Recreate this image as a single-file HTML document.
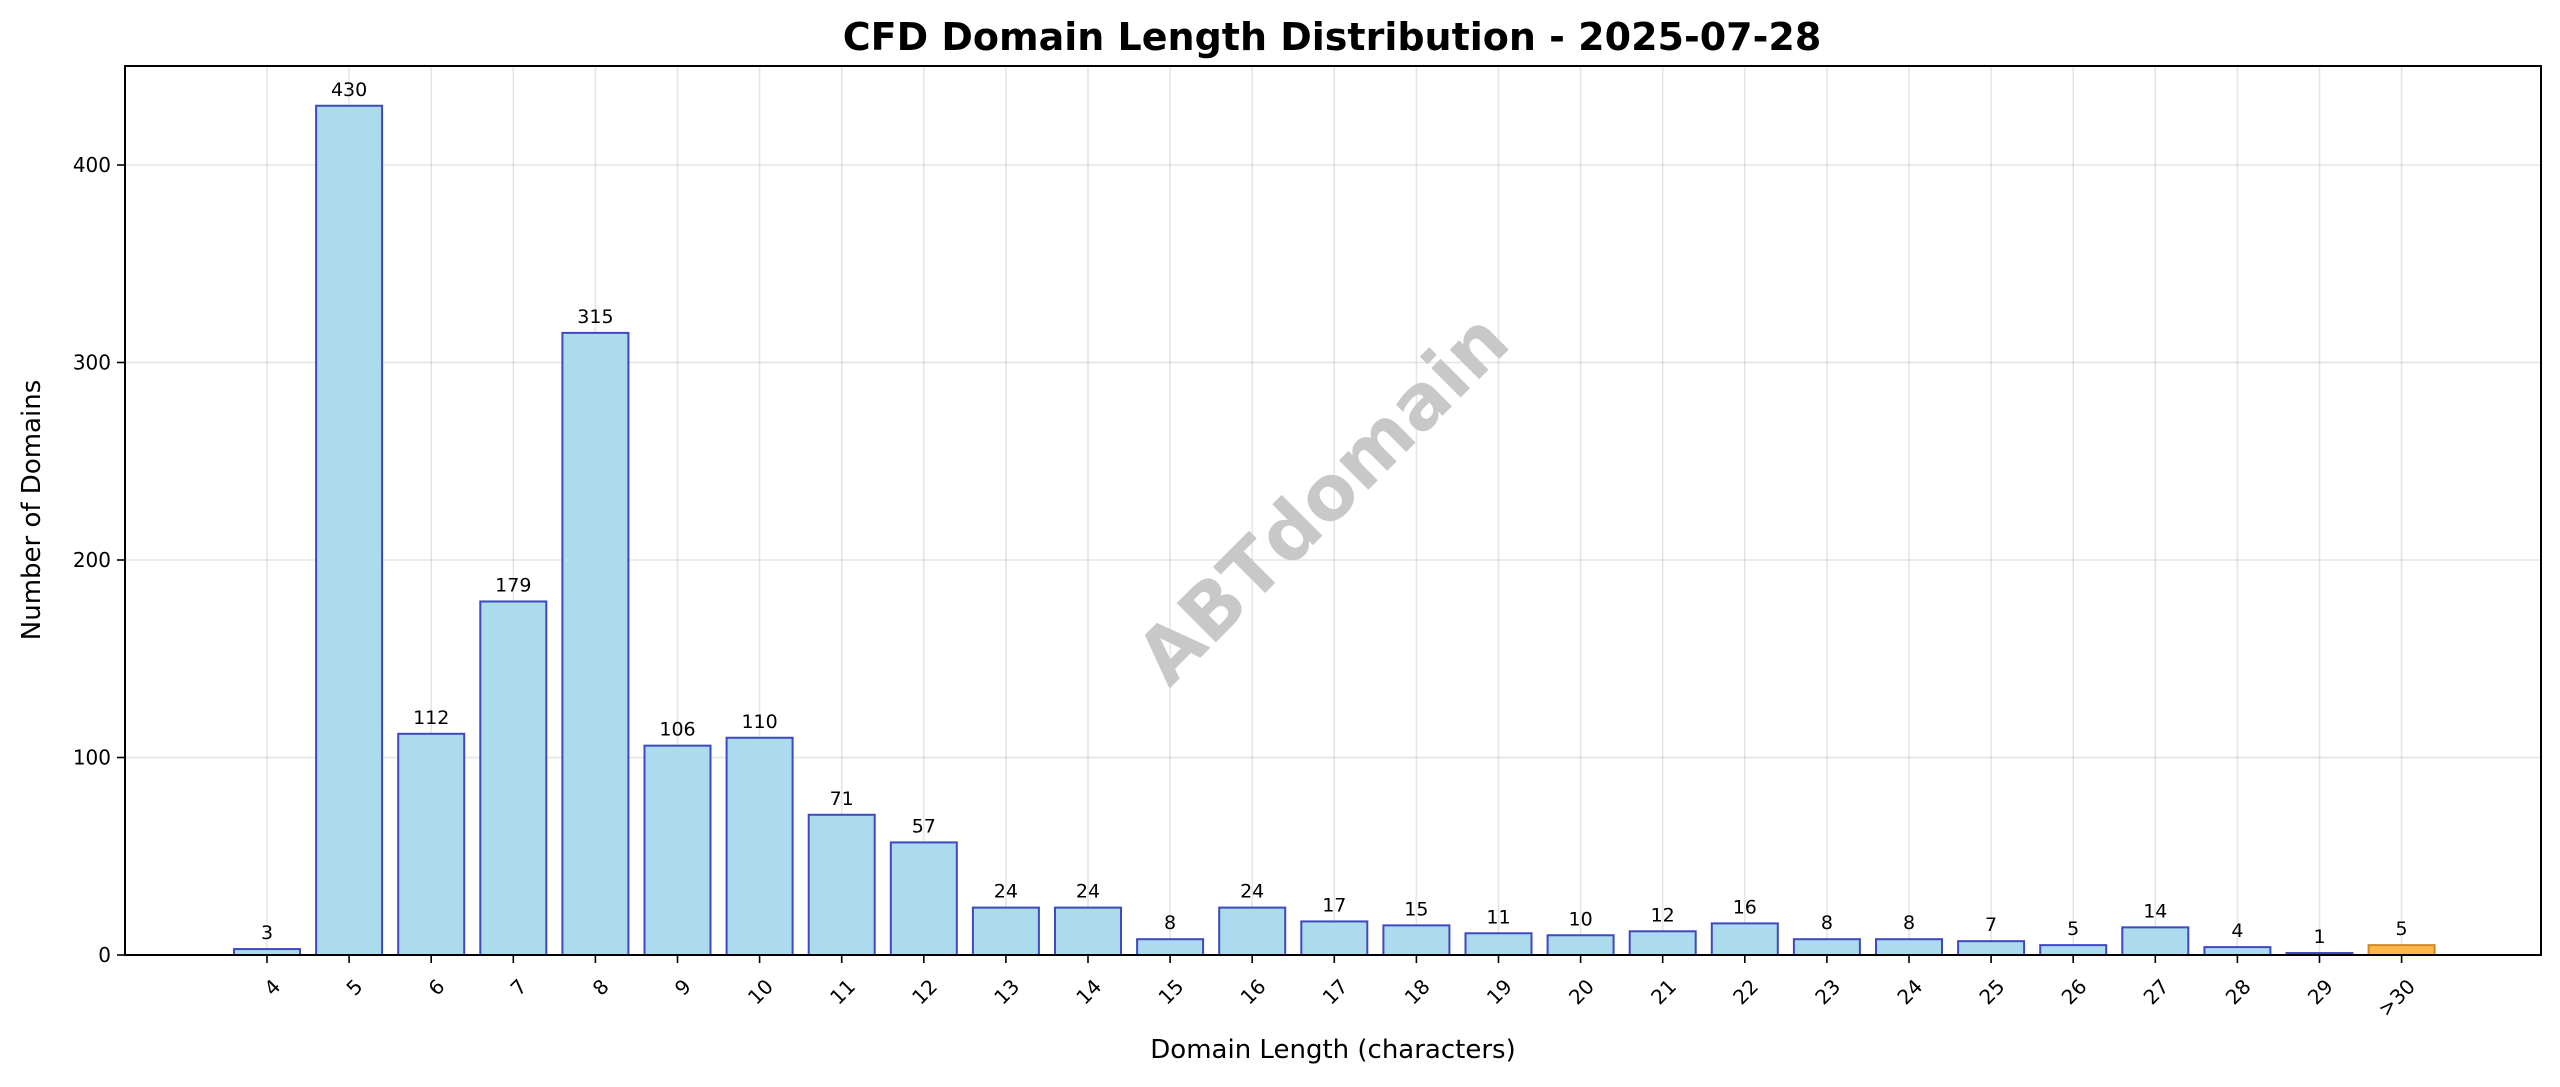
<!DOCTYPE html>
<html><head><meta charset="utf-8"><style>
html,body{margin:0;padding:0;background:#fff;}
svg{display:block;font-family:"DejaVu Sans","Liberation Sans",sans-serif;}
</style></head><body>
<svg id="chart" width="2560" height="1087" viewBox="0 0 2560 1087">
<rect x="0" y="0" width="2560" height="1087" fill="#fff"/>
<g id="grid"></g>
<text x="1334" y="520" transform="rotate(-45 1334 510)" text-anchor="middle" font-size="76" font-weight="bold" fill="#c8c8c8">ABTdomain</text>
<g id="bars"></g>
<g id="labels"></g>
<g id="axes"></g>
<text x="1332" y="50" text-anchor="middle" font-size="38" font-weight="bold" fill="#000">CFD Domain Length Distribution - 2025-07-28</text>
<text x="1333" y="1058" text-anchor="middle" font-size="26" fill="#000">Domain Length (characters)</text>
<text x="40" y="510" transform="rotate(-90 40 510)" text-anchor="middle" font-size="26" fill="#000">Number of Domains</text>
</svg>
<script>
const categories = ["4","5","6","7","8","9","10","11","12","13","14","15","16","17","18","19","20","21","22","23","24","25","26","27","28","29",">30"];
const counts = [3,430,112,179,315,106,110,71,57,24,24,8,24,17,15,11,10,12,16,8,8,7,5,14,4,1,5];
const yTicks = [0,100,200,300,400];

const NS = "http://www.w3.org/2000/svg";
const plotL = 125, plotR = 2541, plotT = 66, plotB = 955;
const x0 = 267, step = 82.1, barW = 66;
const yScale = v => plotB - v * (plotB - 165) / 400;
const xScale = i => x0 + i * step;
function mk(tag, attrs, parent){const e=document.createElementNS(NS,tag);for(const k in attrs)e.setAttribute(k,attrs[k]);parent.appendChild(e);return e;}
const grid=document.getElementById('grid'),bars=document.getElementById('bars'),labels=document.getElementById('labels'),axes=document.getElementById('axes');

yTicks.forEach(t=>{
  const y=yScale(t);
  const g=mk('line',{x1:plotL,x2:plotR,y1:y,y2:y,stroke:'#000','stroke-opacity':0.1,'stroke-width':1.6},grid);
  
  
  const tk=mk('line',{x1:plotL-8,x2:plotL,y1:y,y2:y,stroke:'#000','stroke-width':1.6},axes);
  
  
  const tl=mk('text',{x:plotL-14,y:y+7,'text-anchor':'end','font-size':20,fill:'#000'},axes);
  tl.textContent=t;
  
  
});

categories.forEach((c,i)=>{
  const x=xScale(i);
  const g=mk('line',{x1:x,x2:x,y1:plotT,y2:plotB,stroke:'#000','stroke-opacity':0.1,'stroke-width':1.6},grid);
  
  
  const v=counts[i], top=yScale(v);
  const last = c === ">30";
  const r=mk('rect',{x:x-barW/2,y:top,width:barW,height:plotB-top,fill:last?'#ffb74a':'#acdbee',stroke:last?'#d08a2a':'#3f48bf','stroke-width':2},bars);
  
  
  const vl=mk('text',{x:x,y:top-10,'text-anchor':'middle','font-size':19,fill:'#000'},labels);
  vl.textContent=v;
  
  
  const tk=mk('line',{x1:x,x2:x,y1:plotB,y2:plotB+8,stroke:'#000','stroke-width':1.6},axes);
  
  
  const tx=x+4, ty=plotB+22;
  const tl=mk('text',{x:tx,y:ty,'text-anchor':'end','font-size':20,fill:'#000',transform:`rotate(-45 ${tx} ${ty})`,'dominant-baseline':'hanging'},axes);
  tl.textContent=c;
  
  
});

const frame=mk('rect',{x:plotL,y:plotT,width:plotR-plotL,height:plotB-plotT,fill:'none',stroke:'#000','stroke-width':2},axes);


</script>
</body></html>
